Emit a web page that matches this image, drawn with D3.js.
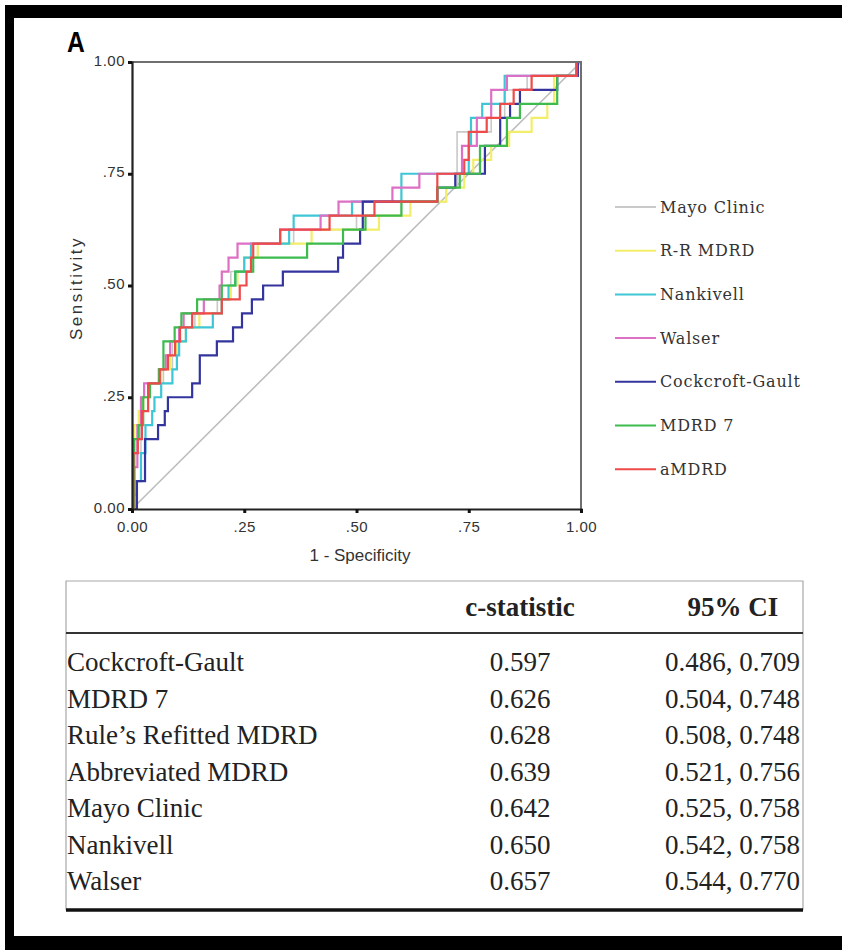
<!DOCTYPE html>
<html>
<head>
<meta charset="utf-8">
<script src="https://cdn.jsdelivr.net/npm/d3@7"></script>
<style>
  body { margin: 0; background: #fff; }
  svg { display: block; }
  .tick text { font-family: "Liberation Sans", Arial, sans-serif; }
</style>
</head>
<body>
<svg width="842" height="950"></svg>
<script>
// ROC points: [1 - specificity, sensitivity] at the top of each riser
var mayoClinic = [[0,0],[0.005,0.125],[0.02,0.21875],[0.035,0.28125],[0.07,0.3125],[0.09,0.375],[0.12,0.40625],[0.14,0.4375],[0.19,0.46875],[0.22,0.53125],[0.25,0.5625],[0.28,0.59375],[0.36,0.625],[0.5,0.65625],[0.6,0.6875],[0.7,0.71875],[0.724,0.84375],[0.8,0.875],[0.83,0.9375],[0.88,0.96875],[0.99,1],[1,1]];
var rrMdrd = [[0,0],[0.005,0.1875],[0.015,0.21875],[0.025,0.25],[0.04,0.28125],[0.065,0.3125],[0.085,0.34375],[0.1,0.375],[0.12,0.40625],[0.15,0.4375],[0.2,0.46875],[0.22,0.5],[0.235,0.53125],[0.25,0.5625],[0.28,0.59375],[0.4,0.625],[0.55,0.65625],[0.62,0.6875],[0.7,0.71875],[0.74,0.75],[0.76,0.78125],[0.8,0.8125],[0.84,0.84375],[0.89,0.875],[0.925,0.90625],[0.94,0.96875],[0.99,1],[1,1]];
var nankivell = [[0,0],[0.005,0.03125],[0.01,0.0625],[0.02,0.125],[0.03,0.1875],[0.045,0.21875],[0.05,0.25],[0.065,0.28125],[0.09,0.3125],[0.1,0.34375],[0.105,0.375],[0.12,0.40625],[0.18,0.4375],[0.2,0.46875],[0.215,0.5],[0.23,0.53125],[0.25,0.5625],[0.265,0.59375],[0.35,0.625],[0.36,0.65625],[0.49,0.6875],[0.6,0.75],[0.75,0.8125],[0.755,0.875],[0.78,0.90625],[0.83,0.96875],[0.99,1],[1,1]];
var walser = [[0,0],[0.005,0.09375],[0.012,0.1875],[0.02,0.25],[0.027,0.28125],[0.06,0.3125],[0.075,0.34375],[0.085,0.375],[0.105,0.40625],[0.115,0.4375],[0.16,0.46875],[0.195,0.5],[0.2,0.53125],[0.215,0.5625],[0.235,0.59375],[0.33,0.625],[0.42,0.65625],[0.46,0.6875],[0.58,0.71875],[0.64,0.75],[0.735,0.8125],[0.768,0.875],[0.8,0.9375],[0.835,0.96875],[0.99,1],[1,1]];
var cockcroftGault = [[0,0],[0.011,0.0625],[0.029,0.15625],[0.058,0.1875],[0.073,0.21875],[0.08,0.25],[0.134,0.28125],[0.151,0.34375],[0.189,0.375],[0.225,0.40625],[0.245,0.4375],[0.267,0.46875],[0.292,0.5],[0.336,0.53125],[0.459,0.5625],[0.47,0.59375],[0.508,0.625],[0.514,0.6875],[0.68,0.71875],[0.72,0.75],[0.786,0.8125],[0.82,0.875],[0.842,0.90625],[0.864,0.9375],[0.947,0.96875],[0.993,1],[1,1]];
var mdrd7 = [[0,0],[0.005,0.15625],[0.015,0.1875],[0.025,0.25],[0.04,0.28125],[0.06,0.3125],[0.07,0.375],[0.095,0.40625],[0.11,0.4375],[0.145,0.46875],[0.2,0.5],[0.23,0.53125],[0.27,0.5625],[0.39,0.59375],[0.47,0.625],[0.52,0.65625],[0.6,0.6875],[0.68,0.71875],[0.73,0.75],[0.775,0.8125],[0.835,0.875],[0.864,0.90625],[0.947,0.96875],[0.99,1],[1,1]];
var aMdrd = [[0,0],[0.003,0.125],[0.013,0.15625],[0.022,0.21875],[0.036,0.28125],[0.062,0.3125],[0.08,0.34375],[0.096,0.375],[0.107,0.40625],[0.134,0.4375],[0.2,0.46875],[0.24,0.5],[0.255,0.53125],[0.265,0.5625],[0.27,0.59375],[0.33,0.625],[0.44,0.65625],[0.54,0.6875],[0.68,0.75],[0.74,0.78125],[0.75,0.84375],[0.79,0.875],[0.82,0.90625],[0.85,0.9375],[0.89,0.96875],[0.99,1],[1,1]];

var seriesNames = ["Mayo Clinic", "R-R MDRD", "Nankivell", "Walser", "Cockcroft-Gault", "MDRD 7", "aMDRD"];
var seriesData = [mayoClinic, rrMdrd, nankivell, walser, cockcroftGault, mdrd7, aMdrd];
var seriesColors = ["#c9c9c9", "#f2ee6a", "#3fc6d6", "#dd6fc4", "#34349e", "#3dbb4f", "#ef4a4a"];

var axisTicks = [0, 0.25, 0.5, 0.75, 1];

// table
var tableHeaders = ["", "c-statistic", "95% CI"];
var tableMethods = ["Cockcroft-Gault", "MDRD 7", "Rule\u2019s Refitted MDRD", "Abbreviated MDRD", "Mayo Clinic", "Nankivell", "Walser"];
var cStatistic = [0.597, 0.626, 0.628, 0.639, 0.642, 0.650, 0.657];
var ciLow = [0.486, 0.504, 0.508, 0.521, 0.525, 0.542, 0.544];
var ciHigh = [0.709, 0.748, 0.748, 0.756, 0.758, 0.758, 0.770];

var svg = d3.select("svg");

// black page frame
svg.append("rect").attr("x", 5).attr("y", 5).attr("width", 837).attr("height", 13).attr("fill", "#000");
svg.append("rect").attr("x", 5).attr("y", 5).attr("width", 9).attr("height", 945).attr("fill", "#000");
svg.append("rect").attr("x", 5).attr("y", 936).attr("width", 837).attr("height", 14).attr("fill", "#000");

svg.append("text")
    .attr("transform", "translate(67,52) scale(0.85,1)")
    .style("font-family", "Liberation Sans, Arial, sans-serif")
    .style("font-weight", "bold")
    .style("font-size", "29px")
    .text("A");

var x = d3.scaleLinear().domain([0, 1]).range([132, 581]),
    y = d3.scaleLinear().domain([0, 1]).range([509, 62]);

function fmt(d) {
  return (d === 0 || d === 1) ? d.toFixed(2) : d3.format(".2f")(d).slice(1);
}

// diagonal reference
svg.append("line")
    .attr("x1", x(0)).attr("y1", y(0))
    .attr("x2", x(1)).attr("y2", y(1))
    .attr("stroke", "#bdbdbd")
    .attr("stroke-width", 1.6);

var line = d3.line()
    .x(function(d) { return x(d[0]); })
    .y(function(d) { return y(d[1]); })
    .curve(d3.curveStepAfter);

svg.append("g").selectAll("path")
    .data(seriesData)
  .enter().append("path")
    .attr("d", line)
    .attr("fill", "none")
    .attr("stroke", function(d, i) { return seriesColors[i]; })
    .attr("stroke-width", function(d, i) { return i === 0 ? 1.6 : 2.2; });

// plot frame: top and right grey
svg.append("path")
    .attr("d", "M" + x(0) + "," + y(1) + "H" + x(1) + "V" + y(0))
    .attr("fill", "none")
    .attr("stroke", "#6f6f6f")
    .attr("stroke-width", 2);

var yAxis = svg.append("g")
    .attr("transform", "translate(" + x(0) + ",0)")
    .call(d3.axisLeft(y).tickValues(axisTicks).tickFormat(fmt).tickSize(4).tickPadding(3));

var xAxis = svg.append("g")
    .attr("transform", "translate(0," + y(0) + ")")
    .call(d3.axisBottom(x).tickValues(axisTicks).tickFormat(fmt).tickSize(4).tickPadding(8));

[yAxis, xAxis].forEach(function(a) {
  a.select(".domain").attr("stroke", "#222").attr("stroke-width", 2.2);
  a.selectAll(".tick line").attr("stroke", "#111").attr("stroke-width", 3);
  a.selectAll(".tick text").style("font-size", "15px").style("letter-spacing", "0.5px").attr("fill", "#333");
});
yAxis.selectAll(".tick text").attr("dy", "0.2em");

svg.append("text")
    .attr("transform", "translate(82,288) rotate(-90)")
    .attr("text-anchor", "middle")
    .style("font-family", "Liberation Sans, Arial, sans-serif")
    .style("font-size", "17px")
    .style("letter-spacing", "2.5px")
    .attr("fill", "#333")
    .text("Sensitivity");

svg.append("text")
    .attr("x", 360).attr("y", 561)
    .attr("text-anchor", "middle")
    .style("font-family", "Liberation Sans, Arial, sans-serif")
    .style("font-size", "17px")
    .attr("fill", "#333")
    .text("1 - Specificity");

// legend
var legend = svg.append("g").selectAll("g")
    .data(seriesNames)
  .enter().append("g")
    .attr("transform", function(d, i) { return "translate(615," + (207 + i * 43.7) + ")"; });

legend.append("line")
    .attr("x1", 0).attr("x2", 41)
    .attr("stroke", function(d, i) { return seriesColors[i]; })
    .attr("stroke-width", 2);

legend.append("text")
    .attr("x", 45).attr("dy", "0.35em")
    .style("font-family", "DejaVu Serif, serif")
    .style("font-size", "16px")
    .style("letter-spacing", "0.8px")
    .attr("fill", "#333")
    .text(function(d) { return d; });

// table
var tbl = svg.append("g").style("font-family", "Liberation Serif, Times New Roman, serif").style("font-size", "27px").attr("fill", "#222");
var tLeft = 66, tRight = 803, tTop = 581, tHead = 633, tBottom = 910;

tbl.append("path")
    .attr("d", "M" + tLeft + "," + tBottom + "V" + tTop + "H" + tRight + "V" + tBottom)
    .attr("fill", "none").attr("stroke", "#a8a8a8").attr("stroke-width", 1.2);
tbl.append("line").attr("x1", tLeft).attr("x2", tRight).attr("y1", tHead).attr("y2", tHead)
    .attr("stroke", "#333").attr("stroke-width", 2);
tbl.append("line").attr("x1", tLeft).attr("x2", tRight).attr("y1", tBottom).attr("y2", tBottom)
    .attr("stroke", "#111").attr("stroke-width", 3.5);

tbl.append("text").attr("x", 520).attr("y", 616).attr("text-anchor", "middle")
    .style("font-weight", "bold").text(tableHeaders[1]);
tbl.append("text").attr("x", 733).attr("y", 616).attr("text-anchor", "middle")
    .style("font-weight", "bold").text(tableHeaders[2]);

var rows = tbl.selectAll("g.row")
    .data(tableMethods)
  .enter().append("g")
    .attr("class", "row")
    .attr("transform", function(d, i) { return "translate(0," + (671 + i * 36.5) + ")"; });

rows.append("text").attr("x", 67).text(function(d) { return d; });
rows.append("text").attr("x", 520).attr("text-anchor", "middle")
    .text(function(d, i) { return cStatistic[i].toFixed(3); });
rows.append("text").attr("x", 800).attr("text-anchor", "end")
    .text(function(d, i) { return ciLow[i].toFixed(3) + ", " + ciHigh[i].toFixed(3); });
</script>
</body>
</html>
